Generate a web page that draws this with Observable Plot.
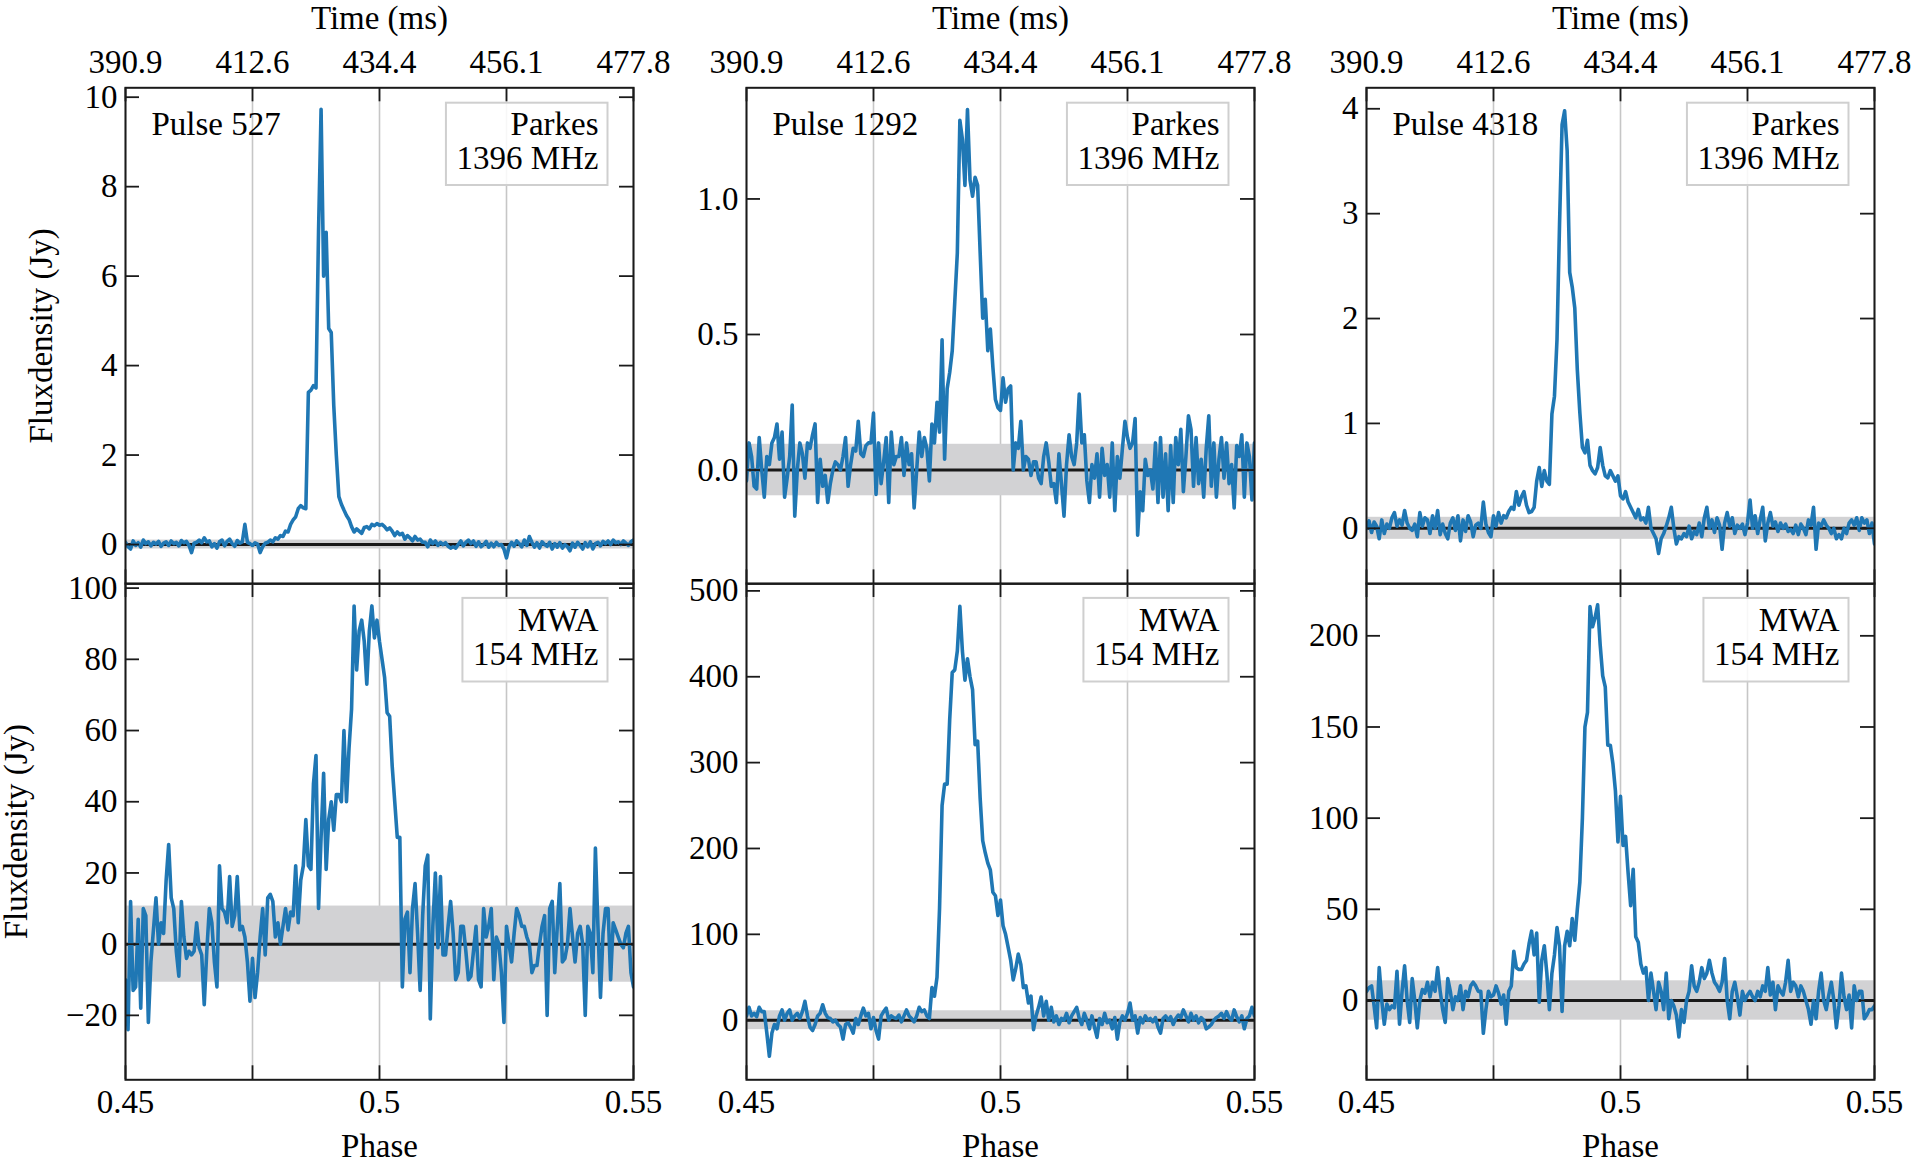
<!DOCTYPE html>
<html>
<head>
<meta charset="utf-8">
<script src="https://cdn.jsdelivr.net/npm/d3@7"></script>
<script src="https://cdn.jsdelivr.net/npm/@observablehq/plot@0.6"></script>
<style>
  html, body { margin: 0; padding: 0; background: #fff; overflow: hidden; }
  #figure { position: relative; width: 1913px; height: 1161px; }
  #figure svg { position: absolute; overflow: visible; }
</style>
</head>
<body>
<div id="figure"></div>
<script>
/* Single pulses: Parkes 1396 MHz (top) vs MWA 154 MHz (bottom) */

// ---- Data: flux density (Jy) per phase bin, bins start at 0.45, width 0.0005 ----
const PHASE_START = 0.45;
const PHASE_STEP = 0.0005;

const pulseNumbers = ['527', '1292', '4318'];
const telescopes = [['Parkes', '1396 MHz'], ['MWA', '154 MHz']];

const parkes527 = [
  0.05, -0.05, -0.1, 0.08, -0.02, 0.04, -0.06, 0.1, 0.02, 0.06,
  -0.03, 0.05, 0.01, 0.07, -0.04, 0.03, 0.06, -0.02, 0.08, 0.02,
  0.05, -0.03, 0.09, 0.04, 0.07, -0.02, -0.18, 0.03, 0.05, 0.1,
  0.04, 0.15, 0.06, 0.08, -0.05, 0.02, -0.08, 0.06, 0.1, -0.03,
  0.07, 0.12, 0.02, -0.04, 0.09, 0.03, 0.06, 0.45, 0.05, 0.02,
  -0.02, 0.04, 0.01, -0.18, -0.05, 0.03, 0.05, 0.1, 0.06, 0.15,
  0.12, 0.2, 0.18, 0.3, 0.28, 0.45, 0.55, 0.62, 0.8, 0.87,
  0.82, 0.8, 3.4, 3.45, 3.55, 3.5, 7.0, 9.73, 6.0, 6.98,
  4.83, 4.74, 3.1, 2.0, 1.07, 0.9, 0.77, 0.65, 0.56, 0.4,
  0.28, 0.35, 0.3, 0.25, 0.38, 0.4, 0.35, 0.45, 0.42, 0.47,
  0.43, 0.45, 0.4, 0.33, 0.37, 0.3, 0.2, 0.28, 0.22, 0.25,
  0.12, 0.2, 0.15, 0.08, 0.18, 0.1, 0.12, 0.05, 0.05, -0.05,
  0.1, 0.02, 0.08, -0.02, 0.05, 0.0, 0.04, -0.04, -0.08, -0.05,
  -0.08, 0.0, 0.08, -0.03, 0.05, 0.1, 0.02, 0.08, -0.04, 0.06,
  -0.05, 0.0, 0.07, -0.06, 0.03, -0.05, 0.05, -0.02, 0.0, -0.1,
  -0.3, -0.05, 0.05, -0.04, 0.08, 0.02, -0.05, 0.1, -0.02, 0.18,
  0.05, -0.06, 0.04, -0.08, 0.06, 0.0, -0.04, 0.05, -0.1, 0.02,
  -0.06, 0.04, -0.08, 0.0, -0.05, -0.14, 0.03, -0.06, 0.05, -0.02,
  -0.1, 0.04, -0.05, 0.06, -0.1, 0.02, 0.05, -0.03, 0.07, 0.02,
  0.08, 0.0, 0.1, 0.04, 0.06, 0.0, 0.08, 0.03, -0.02, 0.06,
  0.1
];

const parkes1292 = [
  -0.04, 0.1, 0.05, -0.06, -0.07, 0.12, 0.0, -0.1, 0.05, 0.02,
  0.1, 0.12, 0.17, 0.04, 0.14, -0.1, -0.03, 0.05, 0.24, -0.17,
  0.0, 0.1, 0.06, -0.03, 0.1, 0.08, 0.13, 0.17, -0.12, 0.04,
  -0.06, -0.02, -0.12, -0.05, 0.0, 0.03, 0.02, 0.0, 0.05, 0.12,
  -0.06, 0.02, 0.08, 0.07, 0.18, 0.06, 0.05, 0.09, 0.1, 0.1,
  0.21, -0.09, 0.1, -0.05, 0.03, 0.12, -0.12, 0.14, 0.02, 0.05,
  0.05, 0.12, -0.02, 0.1, 0.02, 0.06, -0.14, 0.0, 0.14, 0.05,
  0.12, 0.08, -0.04, 0.17, 0.1, 0.25, 0.14, 0.48, 0.04, 0.3,
  0.36, 0.44, 0.62, 0.8, 1.29, 1.22, 1.05, 1.33, 1.07, 1.01,
  1.08, 1.05, 0.8, 0.56, 0.63, 0.44, 0.52, 0.38, 0.26, 0.23,
  0.22, 0.34, 0.25, 0.3, 0.31, 0.0, 0.1, 0.08, 0.18, 0.0,
  0.05, 0.04, -0.02, 0.03, 0.03, -0.03, -0.05, 0.05, 0.1, 0.03,
  -0.06, -0.05, -0.12, 0.06, -0.05, -0.17, 0.02, 0.13, 0.05, 0.02,
  0.1, 0.28, 0.1, 0.13, -0.04, -0.12, 0.02, -0.03, 0.06, -0.1,
  0.08, -0.02, 0.02, -0.1, 0.1, -0.15, 0.05, -0.03, 0.08, 0.18,
  0.12, 0.08, 0.1, 0.19, -0.24, -0.08, -0.15, 0.04, -0.02, 0.0,
  -0.07, 0.1, -0.12, 0.12, -0.1, 0.06, -0.15, 0.09, -0.12, 0.12,
  0.02, 0.15, -0.08, 0.05, 0.2, 0.15, -0.06, 0.12, -0.05, 0.04,
  -0.1, 0.08, 0.2, -0.06, 0.1, -0.1, 0.04, 0.12, -0.03, 0.1,
  -0.05, 0.02, -0.14, 0.09, 0.05, 0.13, -0.1, 0.1, 0.05, -0.11,
  0.1
];

const parkes4318 = [
  0.0, 0.07, -0.04, 0.06, 0.02, -0.1, 0.08, -0.05, 0.04, 0.0,
  0.1, 0.15, 0.02, 0.08, 0.03, 0.17, 0.05, 0.0, -0.02, 0.04,
  -0.08, 0.15, 0.02, 0.1, 0.08, -0.05, 0.12, 0.0, 0.17, -0.06,
  0.04, -0.05, -0.1, 0.05, 0.1, -0.02, 0.12, -0.12, 0.08, -0.03,
  0.12, 0.06, -0.08, 0.03, 0.05, 0.0, 0.25, 0.04, -0.04, -0.08,
  0.12, 0.02, 0.15, 0.05, 0.12, 0.1, 0.16, 0.2, 0.18, 0.35,
  0.22, 0.3, 0.35, 0.22, 0.15, 0.16, 0.2, 0.45, 0.58, 0.4,
  0.55, 0.45, 0.42, 1.09, 1.26, 1.8, 2.9, 3.85, 3.98, 3.6,
  2.44, 2.3, 2.1, 1.51, 1.1, 0.77, 0.72, 0.84, 0.6, 0.55,
  0.52, 0.58, 0.77, 0.6, 0.5, 0.48, 0.55, 0.5, 0.45, 0.5,
  0.31, 0.28, 0.35, 0.25, 0.2, 0.15, 0.1, 0.18, 0.08, 0.1,
  0.05, 0.2, 0.0, -0.05, -0.1, -0.24, -0.1, -0.05, 0.02, 0.1,
  0.2, 0.0, -0.15, -0.08, -0.1, -0.05, -0.08, 0.02, -0.1, -0.03,
  -0.06, 0.05, -0.08, 0.1, 0.2, 0.0, 0.08, -0.04, 0.1, 0.03,
  -0.2, 0.05, 0.15, 0.02, 0.1, -0.05, 0.03, 0.0, 0.04, -0.06,
  0.05, 0.27, 0.0, 0.12, -0.05, 0.08, 0.2, -0.12, 0.05, 0.15,
  0.02, 0.06, -0.03, 0.05, 0.0, 0.04, -0.03, -0.01, -0.05, 0.03,
  -0.06, 0.04, 0.0, -0.06, 0.08, 0.03, 0.2, -0.2, 0.05, 0.02,
  0.08, 0.03, 0.0, -0.05, 0.0, -0.1, -0.06, -0.1, 0.0, -0.05,
  0.05, 0.08, 0.03, 0.1, -0.02, 0.1, 0.05, 0.08, -0.05, 0.05,
  -0.15
];

const mwa527 = [
  -10, -24, 12, -13, -12, 7, -18, 10, 8, -22,
  -5, 4, 13, 0, 6, 3, 18, 28, 13, 10,
  -2, -9, 12, 2, -4, -2, -3, -2, 6, -1,
  -3, -17, -2, 10, 6, -5, -12, 22, 10, 9,
  6, 19, 5, 8, 19, 4, 5, 2, -5, -16,
  -4, -15, -8, 2, 10, -3, 13, 14, 12, 2,
  6, 0, 5, 10, 4, 9, 8, 22, 6, 18,
  22, 35, 22, 21, 45, 53, 10, 30, 48, 21,
  35, 40, 32, 42, 42, 40, 60, 40, 55, 66,
  95, 77, 88, 91, 85, 73, 88, 95, 86, 91,
  85, 80, 75, 65, 64, 50, 40, 30, 30, -12,
  7, 9, -8, 10, 17, 3, -13, 8, 22, 25,
  -21, 5, 20, -1, 19, -3, -3, 5, 12, 3,
  -10, -8, 5, 5, -2, -10, -9, -2, 5, -10,
  -12, 10, 2, 5, 10, -10, 2, 0, -8, -22,
  5, 0, -5, 3, 10, 8, 5, 5, 2, 0,
  -8, -6, -6, 0, 5, 8, -20, 10, 12, -8,
  5, 17, -5, -4, 0, 10, 2, -5, 3, 5,
  0, -20, 5, 3, -8, 27, 5, -15, 3, 10,
  10, -10, 6, 4, 2, 0, -1, 3, 5, -8,
  -12
];

const mwa1292 = [
  5, 15, 5, 8, 4, 15, 10, 10, -15, -42,
  -15, -5, -10, 5, 12, 0, 8, 12, 0, 5,
  8, 2, 10, 22, 5, -8, -12, -5, 5, 8,
  18, 8, 3, 2, -2, 0, -5, -8, -22, -5,
  -3, -8, -15, 2, -5, 5, 14, 5, 8, -10,
  3, -12, -22, 5, 10, 14, 0, 5, 3, 2,
  6, -2, 5, 12, 5, 2, -2, 5, 15, 10,
  12, 5, 2, 38, 28, 50, 130, 250, 275, 275,
  350, 405, 408, 430, 482, 430, 396, 421, 400, 385,
  321, 325, 258, 209, 195, 183, 175, 149, 145, 122,
  140, 110, 100, 85, 70, 47, 60, 77, 65, 38,
  40, 20, 28, -11, 5, 15, 27, 5, 22, 0,
  15, -2, 5, -5, 2, 0, 8, -3, 5, 10,
  15, 2, -5, 8, 0, -10, 5, -8, -20, 2,
  -5, 8, -3, 0, -10, 3, -22, -2, 5, 0,
  8, 20, 0, 5, -15, 3, -3, 5, 0, 2,
  -2, 3, -8, -15, 2, 5, 0, 4, -5, 2,
  6, 3, 12, 5, -2, 8, 0, 5, -3, 3,
  0, -10, -8, -5, 0, 3, 5, 8, 2, 10,
  3, 0, 12, 4, -2, 5, -10, 2, 5, 15,
  5
];

const mwa4318 = [
  5, 7, 8, -3, -15, 18, 0, -13, -2, -5,
  -3, -4, 16, -13, 5, 19, 0, -12, 12, 0,
  -15, 0, 6, 4, 10, 2, 10, 5, 18, 5,
  -5, -12, 12, 5, -5, 2, 0, 8, -5, 5,
  2, 8, 10, 8, 5, 5, -18, -5, 5, 2,
  3, 8, 4, -2, 3, -13, 5, 8, 27, 18,
  17, 17, 20, 22, 31, 38, 25, 37, -1, 22,
  30, 15, -5, 15, 25, 40, 30, -6, 30, 38,
  30, 45, 33, 50, 65, 100, 150, 158, 216, 205,
  210, 217, 195, 178, 172, 140, 140, 130, 115, 87,
  112, 85, 90, 70, 52, 72, 35, 32, 20, 15,
  18, 0, 15, 5, -5, 10, 5, -5, 15, -10,
  0, -3, -8, -20, -5, -12, 0, 5, 19, 8,
  5, 10, 18, 12, 15, 22, 15, 10, 8, 5,
  10, 23, 0, -10, 5, 10, 2, -8, 5, 0,
  3, 5, 2, 0, 5, 2, 8, 5, 18, 3,
  10, -5, 8, 5, 3, 10, 22, 5, 10, 8,
  2, 8, 5, 0, -5, -13, 0, -10, 5, 15,
  0, -5, 3, 10, 0, -15, -3, 15, 2, -5,
  3, -15, 8, 0, 5, 5, -10, -8, -5, -5,
  -3
];

// off-pulse noise level (1 sigma, Jy) drawn as the grey band
const parkesSigma = [0.1, 0.095, 0.105];
const mwaSigma = [10.7, 11, 10.8];

// axes
const phaseTicks = [0.45, 0.475, 0.5, 0.525, 0.55];
const phaseTickLabels = [0.45, 0.5, 0.55];
const timeTickLabels = ['390.9', '412.6', '434.4', '456.1', '477.8'];
const parkesYTicks = [[0, 2, 4, 6, 8, 10], [0, 0.5, 1], [0, 1, 2, 3, 4]];
const mwaYTicks = [[-20, 0, 20, 40, 60, 80, 100], [0, 100, 200, 300, 400, 500], [0, 50, 100, 150, 200]];
const parkesDomains = [[-0.88, 10.21], [-0.42, 1.41], [-0.53, 4.2]];
const mwaDomains = [[-38.1, 101.3], [-69.4, 508.6], [-43.5, 228.7]];

// ---- Layout ----
const FONT = "'Liberation Serif', 'Times New Roman', serif";
const FS = 33;
const colLeft = [125, 745.5, 1366];
const frameW = 508;
const rowTop = [87.3, 583.4];
const frameH = [496.1, 496.3];
const TICK = 14;
const ink = '#1a1a1a';

const measure = document.createElement('canvas').getContext('2d');
measure.font = `${FS}px ${FONT}`;

// white legend box behind the telescope label (sized to the text)
function legendBox(lines, top, h) {
  return (index, scales, values, dims) => {
    const w = d3.max(lines, l => measure.measureText(l).width);
    const right = dims.width - dims.marginRight - 25.5;
    return d3.create('svg:rect')
      .attr('x', right - w - 19.5)
      .attr('y', dims.marginTop + top)
      .attr('width', w + 19.5)
      .attr('height', h)
      .attr('fill', '#fff')
      .attr('fill-opacity', 0.85)
      .attr('stroke', '#cfcfcf')
      .attr('stroke-width', 2)
      .node();
  };
}

function fmtNum(d) {
  return d < 0 ? '\u2212' + Math.abs(d) : String(d);
}

function drawPanel(row, col) {
  const top = row === 0;
  const values = top ? [parkes527, parkes1292, parkes4318][col] : [mwa527, mwa1292, mwa4318][col];
  const profile = values.map((flux, i) => ({ phase: PHASE_START + i * PHASE_STEP, flux }));
  const sigma = top ? parkesSigma[col] : mwaSigma[col];
  const yTicks = top ? parkesYTicks[col] : mwaYTicks[col];
  const yFormat = top && col === 1 ? d => d.toFixed(1) : fmtNum;
  const fh = frameH[row];

  const marginLeft = 125, marginRight = 38;
  const marginTop = top ? rowTop[0] : 20;
  const marginBottom = top ? 4 : 1161 - (rowTop[1] + fh);
  const tickStyle = { stroke: ink, strokeWidth: 1.8 };

  const marks = [
    // vertical guide lines
    Plot.ruleX(phaseTicks, { x: d => d, stroke: '#c6c6c6', strokeWidth: 1.6 }),
    // off-pulse noise band and zero line
    Plot.rect([sigma], { y1: d => -d, y2: d => d, fill: '#d2d2d4' }),
    Plot.ruleY([0], { stroke: ink, strokeWidth: 3 }),
    // pulse profile
    Plot.line(profile, { x: 'phase', y: 'flux', stroke: '#1f77b4', strokeWidth: 3.6, clip: true }),
    Plot.frame({ stroke: ink, strokeWidth: 2 }),
    // inward ticks on all four sides
    Plot.tickX(phaseTicks, { x: d => d, insetBottom: fh - TICK, ...tickStyle }),
    Plot.tickX(phaseTicks, { x: d => d, insetTop: fh - TICK, ...tickStyle }),
    Plot.tickY(yTicks, { y: d => d, insetRight: frameW - TICK, ...tickStyle }),
    Plot.tickY(yTicks, { y: d => d, insetLeft: frameW - TICK, ...tickStyle }),
    Plot.axisY(yTicks, { anchor: 'left', label: null, tickSize: 0, tickPadding: 8, tickFormat: yFormat, fontSize: FS }),
    // telescope legend
    legendBox(telescopes[row], top ? 15.4 : 14.9, top ? 82.3 : 83.6),
    Plot.text([telescopes[row].join('\n')], {
      text: d => d, frameAnchor: 'top-right', dx: -35, dy: top ? 81.1 : 82,
      textAnchor: 'end', lineAnchor: 'bottom', lineHeight: top ? 1.02 : 1.04, fontSize: FS
    })
  ];

  if (top) {
    marks.push(
      Plot.axisX(phaseTicks, {
        anchor: 'top', label: null, tickSize: 0, tickPadding: 14.6, fontSize: FS,
        tickFormat: d => timeTickLabels[phaseTicks.indexOf(d)]
      }),
      Plot.text(['Time (ms)'], { text: d => d, frameAnchor: 'top', dy: -58.6, lineAnchor: 'bottom', fontSize: FS }),
      Plot.text([`Pulse ${pulseNumbers[col]}`], {
        text: d => d, frameAnchor: 'top-left', dx: 26, dy: 47.4,
        textAnchor: 'start', lineAnchor: 'bottom', fontSize: FS
      })
    );
  } else {
    marks.push(
      Plot.axisX(phaseTickLabels, { anchor: 'bottom', label: null, tickSize: 0, tickPadding: 10, fontSize: FS, tickFormat: d => `${d}` }),
      Plot.text(['Phase'], { text: d => d, frameAnchor: 'bottom', dy: 77.3, lineAnchor: 'bottom', fontSize: FS })
    );
  }

  if (col === 0) {
    marks.push(Plot.text(['Fluxdensity (Jy)'], {
      text: d => d, frameAnchor: 'left', textAnchor: 'middle', rotate: -90,
      dx: top ? -84 : -109.5, fontSize: FS
    }));
  }

  const svg = Plot.plot({
    width: marginLeft + frameW + marginRight,
    height: marginTop + fh + marginBottom,
    marginLeft, marginRight, marginTop, marginBottom,
    style: {
      background: 'transparent',
      color: '#000',
      fontFamily: FONT,
      fontSize: FS + 'px',
      overflow: 'visible'
    },
    x: { domain: [0.45, 0.55], axis: null },
    y: { domain: top ? parkesDomains[col] : mwaDomains[col], axis: null },
    marks
  });

  svg.style.left = (colLeft[col] - marginLeft) + 'px';
  svg.style.top = (top ? 0 : rowTop[1] - marginTop) + 'px';
  document.getElementById('figure').appendChild(svg);
}

for (let row = 0; row < 2; row++) {
  for (let col = 0; col < 3; col++) drawPanel(row, col);
}
</script>
</body>
</html>
